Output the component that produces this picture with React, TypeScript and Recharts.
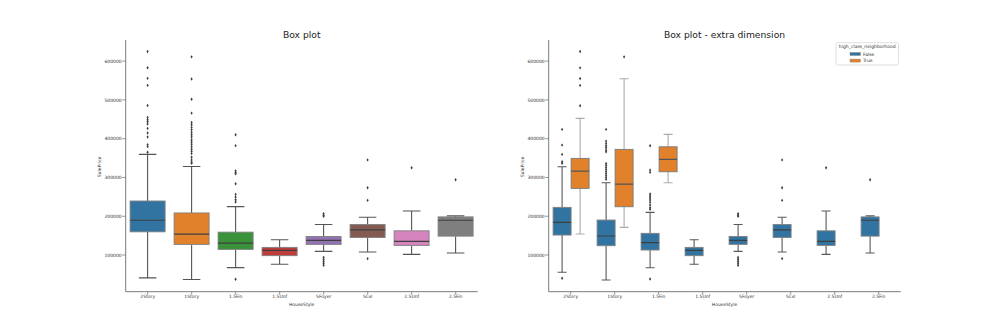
import React from 'react';
import { ComposedChart, Bar, XAxis, YAxis } from 'recharts';

// ---------- data ----------
const categories = ['2Story', '1Story', '1.5Fin', '1.5Unf', 'SFoyer', 'SLvl', '2.5Unf', '2.5Fin'];
const yTicks = [100000, 200000, 300000, 400000, 500000, 600000];

// all houses (left chart)
const allLow = [41000, 36800, 67500, 76100, 109400, 107700, 101700, 105100];
const allQ1 = [159800, 127400, 114500, 98300, 127400, 145300, 124800, 148700];
const allMed = [189700, 153800, 130800, 112000, 137600, 165000, 135000, 189700];
const allQ3 = [239300, 208500, 159000, 119700, 147900, 178600, 162400, 198300];
const allHigh = [359500, 328200, 224800, 139300, 178600, 197400, 213700, 200900];
const allOut = [
  [625000, 582900, 555600, 537600, 485500, 454700, 448700, 443600, 437600, 426500, 414500, 404300, 384600, 379500, 365000],
  [611100, 553800, 501700, 465800, 441900, 435900, 429100, 423100, 416200, 410300, 404300, 397400, 391500, 385500, 379500, 373500, 367500, 361500, 352100, 345000, 339300, 336800],
  [410300, 382100, 317100, 313000, 309400, 283800, 256400, 249600, 242700, 236800, 37600],
  [],
  [206800, 202600, 200000, 94000, 88900, 83800, 78600, 73500],
  [345300, 273500, 241000, 90600],
  [325000],
  [294000],
];

// high_class_neighborhood = False
const falseLow = [55400, 35600, 67300, 76100, 109400, 107700, 101700, 105100];
const falseQ1 = [151500, 124000, 112900, 98300, 127400, 145300, 124800, 148700];
const falseMed = [184300, 149000, 131700, 112000, 137600, 165000, 135000, 189700];
const falseQ3 = [222900, 190200, 155900, 119700, 147900, 178600, 162400, 198300];
const falseHigh = [327600, 286300, 210000, 139300, 178600, 197400, 213700, 200900];
const falseOut = [
  [424000, 383500, 359500, 340500, 336300, 39900],
  [424000, 393800, 387900, 381700, 376500, 370600, 366200, 336300, 331200, 326000, 320900, 315700, 310600, 305400, 300300, 295100],
  [381700, 319000, 313100, 257200, 252100, 246900, 241800, 235800, 228900, 221900, 217800, 38100],
  [],
  [206800, 202600, 200000, 94000, 88900, 83800, 78600, 73500],
  [345300, 273500, 241000, 90600],
  [325000],
  [294000],
];

// high_class_neighborhood = True (only first three styles)
const trueLow = [154100, 171400, 286300];
const trueQ1 = [271900, 224500, 314700];
const trueMed = [316500, 283000, 346600];
const trueQ3 = [349200, 372400, 379100];
const trueHigh = [452300, 554500, 411000];
const trueOut = [[625000, 582700, 555400, 537400, 484800], [611100], []];

// ---------- build tables ----------
type Stat = { low: number; q1: number; med: number; q3: number; high: number; out: number[] };
const stat = (lo: number[], q1: number[], md: number[], q3: number[], hi: number[], out: number[][], i: number): Stat | null =>
  i < lo.length ? { low: lo[i], q1: q1[i], med: md[i], q3: q3[i], high: hi[i], out: out[i] } : null;

const rows = categories.map((cat, i) => {
  const a = stat(allLow, allQ1, allMed, allQ3, allHigh, allOut, i);
  const f = stat(falseLow, falseQ1, falseMed, falseQ3, falseHigh, falseOut, i);
  const t = stat(trueLow, trueQ1, trueMed, trueQ3, trueHigh, trueOut, i);
  return {
    cat,
    all: a,
    F: f,
    T: t,
    rangeAll: a ? [a.low, a.high] : null,
    rangeF: f ? [f.low, f.high] : null,
    rangeT: t ? [t.low, t.high] : null,
  };
});

// ---------- styles ----------
const palette = ['#3274a1', '#e1812c', '#3a923a', '#c03d3e', '#9372b2', '#845b53', '#d684bd', '#7f7f7f'];
const FONT = '"DejaVu Sans", sans-serif';
const yDomain = [5395, 654505];

const makeShape = (key: 'all' | 'F' | 'T', fillFn: (i: number) => string, whisker: string, edge: string, medColor: string) =>
  (props: any) => {
    const { x, y, width, height, payload, index } = props;
    const st: Stat | null = payload ? payload[key] : null;
    if (!st || x == null || y == null) return <g />;
    const top = Math.min(y, y + height);
    const h = Math.abs(height);
    const k = h / (st.high - st.low);
    const py = (v: number) => top + (st.high - v) * k;
    const cx = x + width / 2;
    const cap = width / 4;
    const yq1 = py(st.q1);
    const yq3 = py(st.q3);
    return (
      <g>
        <line x1={cx} x2={cx} y1={py(st.high)} y2={yq3} stroke={whisker} strokeWidth={1.1} />
        <line x1={cx} x2={cx} y1={yq1} y2={py(st.low)} stroke={whisker} strokeWidth={1.1} />
        <line x1={cx - cap} x2={cx + cap} y1={py(st.high)} y2={py(st.high)} stroke={whisker} strokeWidth={1.1} />
        <line x1={cx - cap} x2={cx + cap} y1={py(st.low)} y2={py(st.low)} stroke={whisker} strokeWidth={1.1} />
        <rect x={x} y={yq3} width={width} height={yq1 - yq3} fill={fillFn(index)} stroke={edge} strokeWidth={0.9} />
        <line x1={x} x2={x + width} y1={py(st.med)} y2={py(st.med)} stroke={medColor} strokeWidth={1.2} />
        {st.out.map((v, j) => {
          const yy = py(v);
          return (
            <path
              key={j}
              d={`M${cx},${yy - 1.7}L${cx + 1.1},${yy}L${cx},${yy + 1.7}L${cx - 1.1},${yy}Z`}
              fill="#3d3d3d"
            />
          );
        })}
      </g>
    );
  };

const tickStyle = { fontSize: 4.5, fill: '#333', fontFamily: FONT };
const axisLine = { stroke: '#7a7a7a', strokeWidth: 1 };
const tickLine = { stroke: '#7a7a7a', strokeWidth: 0.8 };

export default function App() {
  return (
    <div style={{ position: 'absolute', left: 0, top: 0, width: 1000, height: 333, background: '#fff', fontFamily: FONT }}>
      <div style={{ position: 'absolute', left: 0, top: 0 }}>
        <ComposedChart
          width={500}
          height={333}
          data={rows}
          margin={{ top: 40, right: 22.3, bottom: 11.3, left: 0 }}
          barCategoryGap="10%"
        >
          <XAxis dataKey="cat" type="category" height={30} tick={tickStyle} tickSize={3} tickMargin={0} axisLine={axisLine} tickLine={tickLine} interval={0} />
          <YAxis width={125.7} domain={yDomain} ticks={yTicks} type="number" allowDataOverflow tick={tickStyle} tickSize={3.5} tickMargin={0.5} axisLine={axisLine} tickLine={tickLine} />
          <Bar dataKey="rangeAll" isAnimationActive={false} shape={makeShape('all', (i) => palette[i % palette.length], '#555', '#808080', '#3f3f3f')} />
        </ComposedChart>
      </div>
      <div style={{ position: 'absolute', left: 500, top: 0 }}>
        <ComposedChart
          width={500}
          height={333}
          data={rows}
          margin={{ top: 40, right: 99.3, bottom: 11.3, left: 0 }}
          barCategoryGap="10%"
          barGap={0}
        >
          <XAxis dataKey="cat" type="category" height={30} tick={tickStyle} tickSize={3} tickMargin={0} axisLine={axisLine} tickLine={tickLine} interval={0} />
          <YAxis width={48.7} domain={yDomain} ticks={yTicks} type="number" allowDataOverflow tick={tickStyle} tickSize={3.5} tickMargin={0.5} axisLine={axisLine} tickLine={tickLine} />
          <Bar dataKey="rangeF" isAnimationActive={false} shape={makeShape('F', () => palette[0], '#595959', '#808080', '#3f3f3f')} />
          <Bar dataKey="rangeT" isAnimationActive={false} shape={makeShape('T', () => palette[1], '#ababab', '#7a7a7a', '#555')} />
        </ComposedChart>
      </div>
      <svg width={1000} height={333} style={{ position: 'absolute', left: 0, top: 0, pointerEvents: 'none' }}>
        <g fontFamily={FONT}>
          <text x={301.7} y={37.5} fontSize={9.2} textAnchor="middle" fill="#222">Box plot</text>
          <text x={724.5} y={37.5} fontSize={9.2} textAnchor="middle" fill="#222">Box plot - extra dimension</text>
          <text x={301.7} y={305.5} fontSize={4.5} textAnchor="middle" fill="#333">HouseStyle</text>
          <text x={724.5} y={305.5} fontSize={4.5} textAnchor="middle" fill="#333">HouseStyle</text>
          <text transform="translate(100.9,166.7) rotate(-90)" fontSize={4.5} textAnchor="middle" fill="#333">SalePrice</text>
          <text transform="translate(523.9,166.7) rotate(-90)" fontSize={4.5} textAnchor="middle" fill="#333">SalePrice</text>
          <rect x={836} y={42.7} width={62.5} height={22.3} rx={1.5} fill="#fff" fillOpacity={0.8} stroke="#d8d8d8" strokeWidth={0.8} />
          <text x={867.2} y={47.6} fontSize={4.5} textAnchor="middle" fill="#333">high_class_neighborhood</text>
          <rect x={850} y={52.5} width={10.5} height={3} fill={palette[0]} stroke="#808080" strokeWidth={0.4} />
          <text x={863} y={55.6} fontSize={4.5} fill="#333">False</text>
          <rect x={850} y={59.1} width={10.5} height={3} fill={palette[1]} stroke="#808080" strokeWidth={0.4} />
          <text x={863} y={62.2} fontSize={4.5} fill="#333">True</text>
        </g>
      </svg>
    </div>
  );
}
